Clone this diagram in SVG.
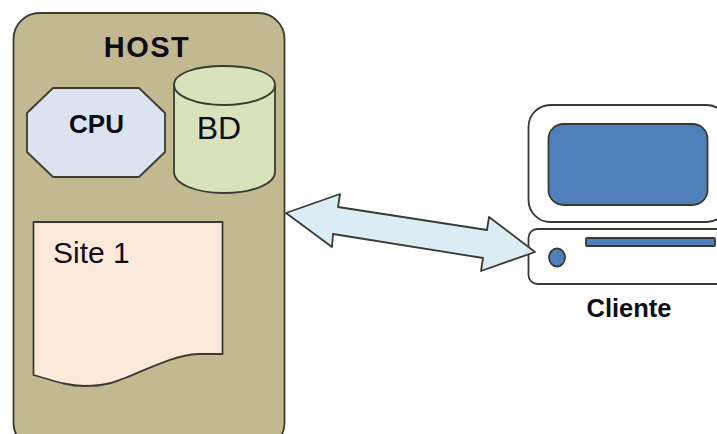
<svg xmlns="http://www.w3.org/2000/svg" width="717" height="434" viewBox="0 0 717 434">
<style>
.s{stroke:#3a3a32;stroke-width:1.8;stroke-linejoin:round}
.t{font-family:"Liberation Sans",Arial,sans-serif;fill:#0d0d1a}
.b{font-weight:bold}
</style>
<rect width="717" height="434" fill="#fff"/>
<g id="host">
<rect class="s" x="13.500" y="13" width="271" height="436" rx="26" fill="#c3b991"/>
<text class="t b" x="147" y="57" font-size="29" letter-spacing="1.500" text-anchor="middle">HOST</text>
</g>
<g id="cpu">
<polygon class="s" points="53,88 139,88 165,113 165,152 139,177 53,177 27,152 27,113" fill="#dae3ef"/>
<text class="t b" x="96.500" y="133" font-size="26" text-anchor="middle">CPU</text>
</g>
<g id="bd">
<path class="s" d="M174,85V172C174,184 196,193 224,193C252,193 275,184 275,172V85C275,73 252,66 224,66C196,66 174,73 174,85Z" fill="#d8e2bb"/>
<path class="s" d="M174,85C174,96 196,105 224,105C252,105 275,96 275,85" fill="none"/>
<text class="t" x="219" y="139" font-size="32" text-anchor="middle">BD</text>
</g>
<g id="site1">
<path class="s" d="M33.500,222H222.500V354H198C175,355 150,368 125,378C115,382 105,386 85,386C70,386 60,383 33.500,375Z" fill="#fde9da"/>
<text class="t" x="53" y="263" font-size="30">Site 1</text>
</g>
<g id="cliente">
<rect class="s" x="528.500" y="105" width="200" height="117" rx="22" fill="#fff"/>
<rect class="s" x="548.500" y="124" width="159" height="81" rx="15" fill="#4f80bb"/>
<rect class="s" x="528.500" y="229" width="200" height="55" rx="9" fill="#fff"/>
<rect class="s" x="586" y="238" width="129" height="8" rx="1" fill="#4f80bb"/>
<ellipse class="s" cx="557" cy="257.500" rx="8" ry="9" fill="#4f80bb"/>
<text class="t b" x="629" y="317" font-size="25.500" text-anchor="middle">Cliente</text>
</g>
<g id="connectors">
<polygon class="s" points="286,213 340,194 338,207 487,230 489,217 535,252 481,271 483,258 333,234 332,247" fill="#dbedf4"/>
</g>
</svg>
